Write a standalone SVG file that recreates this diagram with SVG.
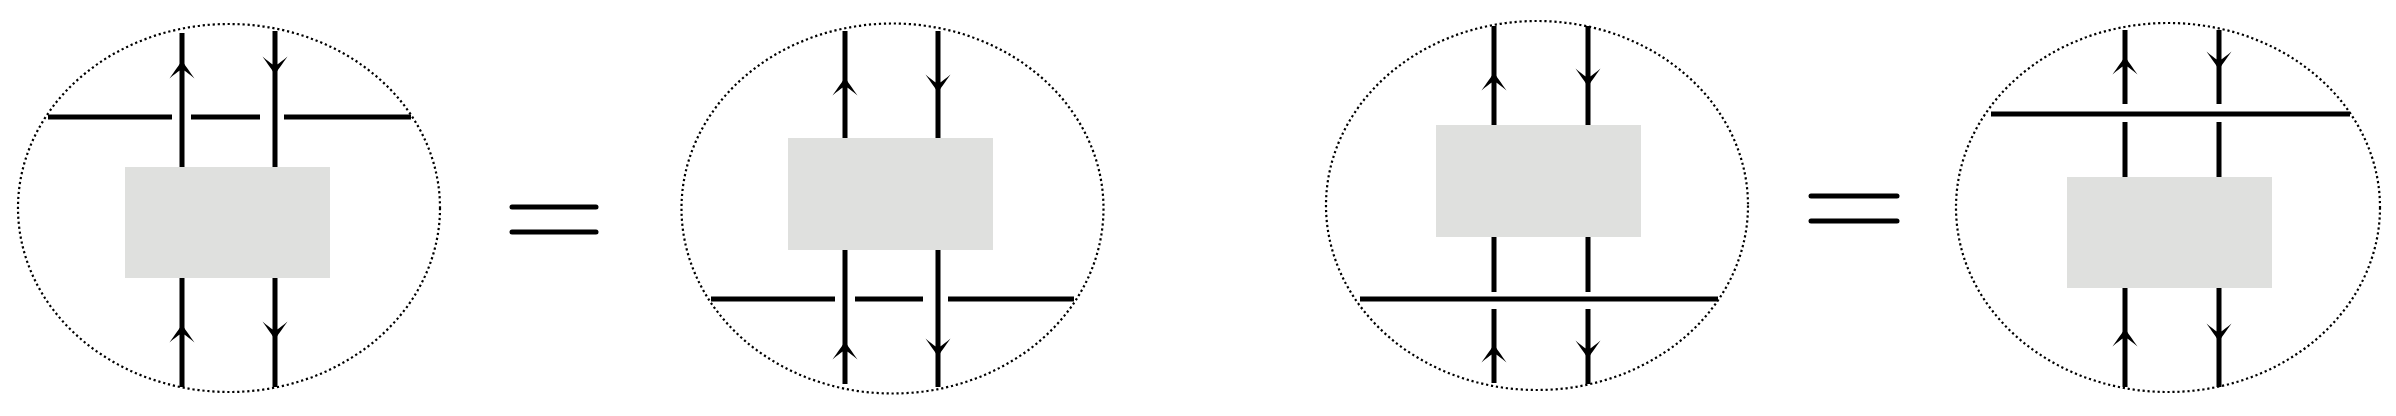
<svg xmlns="http://www.w3.org/2000/svg" xmlns:xlink="http://www.w3.org/1999/xlink" width="2396" height="416" viewBox="0 0 2396 416">
<style>
.bg{fill:#ffffff}
.oval{fill:none;stroke:#000;stroke-width:2.2;stroke-dasharray:2.2 2.8}
.box{fill:#dfe0de}
.w{stroke:#000;stroke-width:5;fill:none}
.eq{stroke:#000;stroke-width:5;stroke-linecap:round;fill:none}
.ah{fill:#000}
</style>
<defs>
<path id="up" class="ah" d="M0,0 C2,4 8,12 12.5,18.5 C7,14 3,10.5 0,9.5 C-3,10.5 -7,14 -12.5,18.5 C-8,12 -2,4 0,0 Z"/>
</defs>
<rect class="bg" x="0" y="0" width="2396" height="416"/>

<g id="panel1">
<ellipse class="oval" cx="229" cy="208" rx="211" ry="184"/>
<rect class="box" x="125" y="167" width="205" height="111"/>
</g>
<g id="panel2">
<ellipse class="oval" cx="892.5" cy="208.5" rx="211" ry="185"/>
<rect class="box" x="788" y="138" width="205" height="112"/>
</g>
<g id="eq1">
<line class="eq" x1="512" y1="207" x2="596" y2="207"/>
<line class="eq" x1="512" y1="232" x2="596" y2="232"/>
</g>
<g id="panel3">
<ellipse class="oval" cx="1537" cy="205.5" rx="211" ry="184.5"/>
<rect class="box" x="1436" y="125" width="205" height="112"/>
</g>
<g id="eq2">
<line class="eq" x1="1811" y1="196" x2="1897" y2="196"/>
<line class="eq" x1="1811" y1="221" x2="1897" y2="221"/>
</g>
<g id="panel4">
<ellipse class="oval" cx="2168" cy="207.5" rx="212" ry="184.5"/>
<rect class="box" x="2067" y="177" width="205" height="111"/>
</g>

<g id="connectors">
<!-- panel 1 -->
<path class="w" d="M182,33 V167 M182,278 V387 M275,31 V167 M275,278 V387"/>
<path class="w" d="M48,117 H172 M191,117 H260 M284,117 H411"/>
<use xlink:href="#up" transform="translate(182,60)"/>
<use xlink:href="#up" transform="translate(275,75) rotate(180)"/>
<use xlink:href="#up" transform="translate(182,324)"/>
<use xlink:href="#up" transform="translate(275,340) rotate(180)"/>
<!-- panel 2 -->
<path class="w" d="M845,31 V138 M845,250 V384 M938,31 V138 M938,250 V387"/>
<path class="w" d="M711,299 H835 M855,299 H923 M948,299 H1074"/>
<use xlink:href="#up" transform="translate(845,77)"/>
<use xlink:href="#up" transform="translate(938,93) rotate(180)"/>
<use xlink:href="#up" transform="translate(845,341)"/>
<use xlink:href="#up" transform="translate(938,357) rotate(180)"/>
<!-- panel 3 -->
<path class="w" d="M1494,26 V125 M1494,237 V292 M1494,309 V383 M1588,26 V125 M1588,237 V292 M1588,309 V384"/>
<path class="w" d="M1360,299 H1718"/>
<use xlink:href="#up" transform="translate(1494,72)"/>
<use xlink:href="#up" transform="translate(1588,87) rotate(180)"/>
<use xlink:href="#up" transform="translate(1494,344)"/>
<use xlink:href="#up" transform="translate(1588,359) rotate(180)"/>
<!-- panel 4 -->
<path class="w" d="M2125,30 V104 M2125,122 V177 M2125,288 V387 M2219,30 V104 M2219,122 V177 M2219,288 V387"/>
<path class="w" d="M1991,114 H2350"/>
<use xlink:href="#up" transform="translate(2125,56)"/>
<use xlink:href="#up" transform="translate(2219,70) rotate(180)"/>
<use xlink:href="#up" transform="translate(2125,328)"/>
<use xlink:href="#up" transform="translate(2219,342) rotate(180)"/>
</g>
</svg>
